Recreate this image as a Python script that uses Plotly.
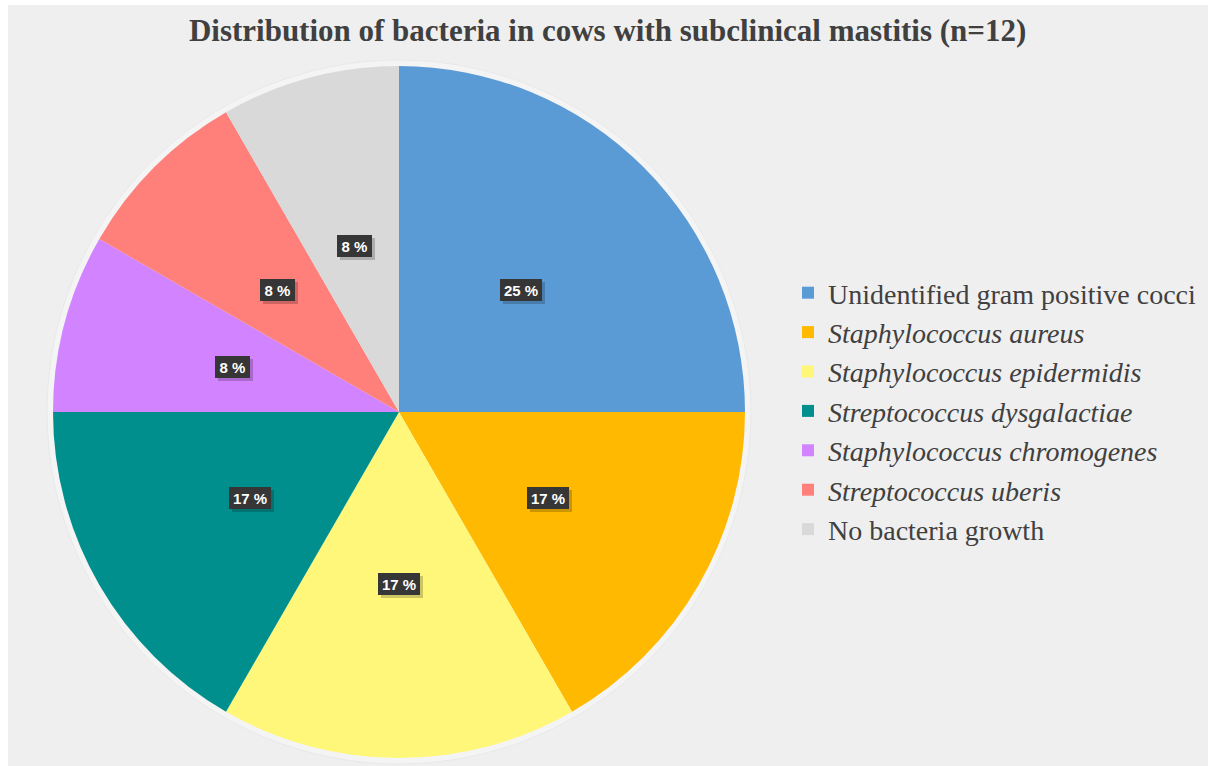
import math
import plotly.graph_objects as go

# ---- data ----
categories = [
    "Unidentified gram positive cocci",
    "<i>Staphylococcus aureus</i>",
    "<i>Staphylococcus epidermidis</i>",
    "<i>Streptococcus dysgalactiae</i>",
    "<i>Staphylococcus chromogenes</i>",
    "<i>Streptococcus uberis</i>",
    "No bacteria growth",
]
counts = [3, 2, 2, 2, 1, 1, 1]
colors = ["#5B9BD5", "#FFB900", "#FFF77A", "#008F8C", "#D283FF", "#FF7F7B", "#D9D9D9"]
title_text = "Distribution of bacteria in cows with subclinical mastitis (n=12)"

# ---- layout geometry ----
W, H = 1208, 766
cx_px, cy_px, R_px = 399, 412, 346
dom_x = [(cx_px - R_px) / W, (cx_px + R_px) / W]
dom_y = [1 - (cy_px + R_px) / H, 1 - (cy_px - R_px) / H]
cx, cy = sum(dom_x) / 2, sum(dom_y) / 2

fig = go.Figure()
fig.add_trace(go.Pie(
    labels=categories,
    values=counts,
    marker=dict(colors=colors, line=dict(width=0)),
    sort=False,
    direction="clockwise",
    rotation=0,
    textinfo="none",
    domain=dict(x=dom_x, y=dom_y),
    hoverinfo="label+percent",
))

# percentage labels as boxed annotations at mid-angle of each slice
total = sum(counts)
annotations = []
cum = 0
label_r = 0.497 * R_px
for c in counts:
    mid = (cum + c / 2) / total * 2 * math.pi
    cum += c
    x = cx + label_r * math.sin(mid) / W
    y = cy + label_r * math.cos(mid) / H
    txt = f"{round(c / total * 100)} %"
    bw = 42 if len(txt) > 3 else 35
    common = dict(x=x, y=y, xref="paper", yref="paper", showarrow=False,
                  xanchor="center", yanchor="middle",
                  width=bw, height=22, borderpad=0, borderwidth=0)
    # shadow box
    annotations.append(dict(
        text=" ", font=dict(family="Liberation Sans", size=15, color="rgba(0,0,0,0)"),
        bgcolor="rgba(0,0,0,0.2)", xshift=3, yshift=-3, **common,
    ))
    annotations.append(dict(
        text=f"<b>{txt}</b>", font=dict(family="Liberation Sans", size=15, color="white"),
        bgcolor="#363636", **common,
    ))

shapes = [
    dict(type="rect", xref="paper", yref="paper", x0=8 / W, x1=1, y0=0, y1=1 - 5 / H,
         fillcolor="#EFEFEF", line=dict(width=0), layer="below"),
    dict(type="circle", xref="paper", yref="paper",
         x0=(cx_px - R_px - 6) / W, x1=(cx_px + R_px + 6) / W,
         y0=1 - (cy_px + R_px + 6) / H, y1=1 - (cy_px - R_px - 6) / H,
         fillcolor="#F4F4F4", line=dict(color="#E9E9E9", width=1), layer="below"),
]

fig.update_layout(
    width=W, height=H,
    margin=dict(l=0, r=0, t=0, b=0),
    paper_bgcolor="white",
    plot_bgcolor="white",
    title=dict(text=f"<b>{title_text}</b>", x=0.503, xanchor="center", y=1 - 30 / H,
               yanchor="middle", font=dict(family="Liberation Serif", size=31, color="#404040")),
    legend=dict(
        x=788 / W, xanchor="left", y=1 - 411 / H, yanchor="middle",
        font=dict(family="Liberation Serif", size=28, color="#404040"),
        bgcolor="rgba(0,0,0,0)", traceorder="normal",
    ),
    annotations=annotations,
    shapes=shapes,
)

fig.write_html("out.html")
